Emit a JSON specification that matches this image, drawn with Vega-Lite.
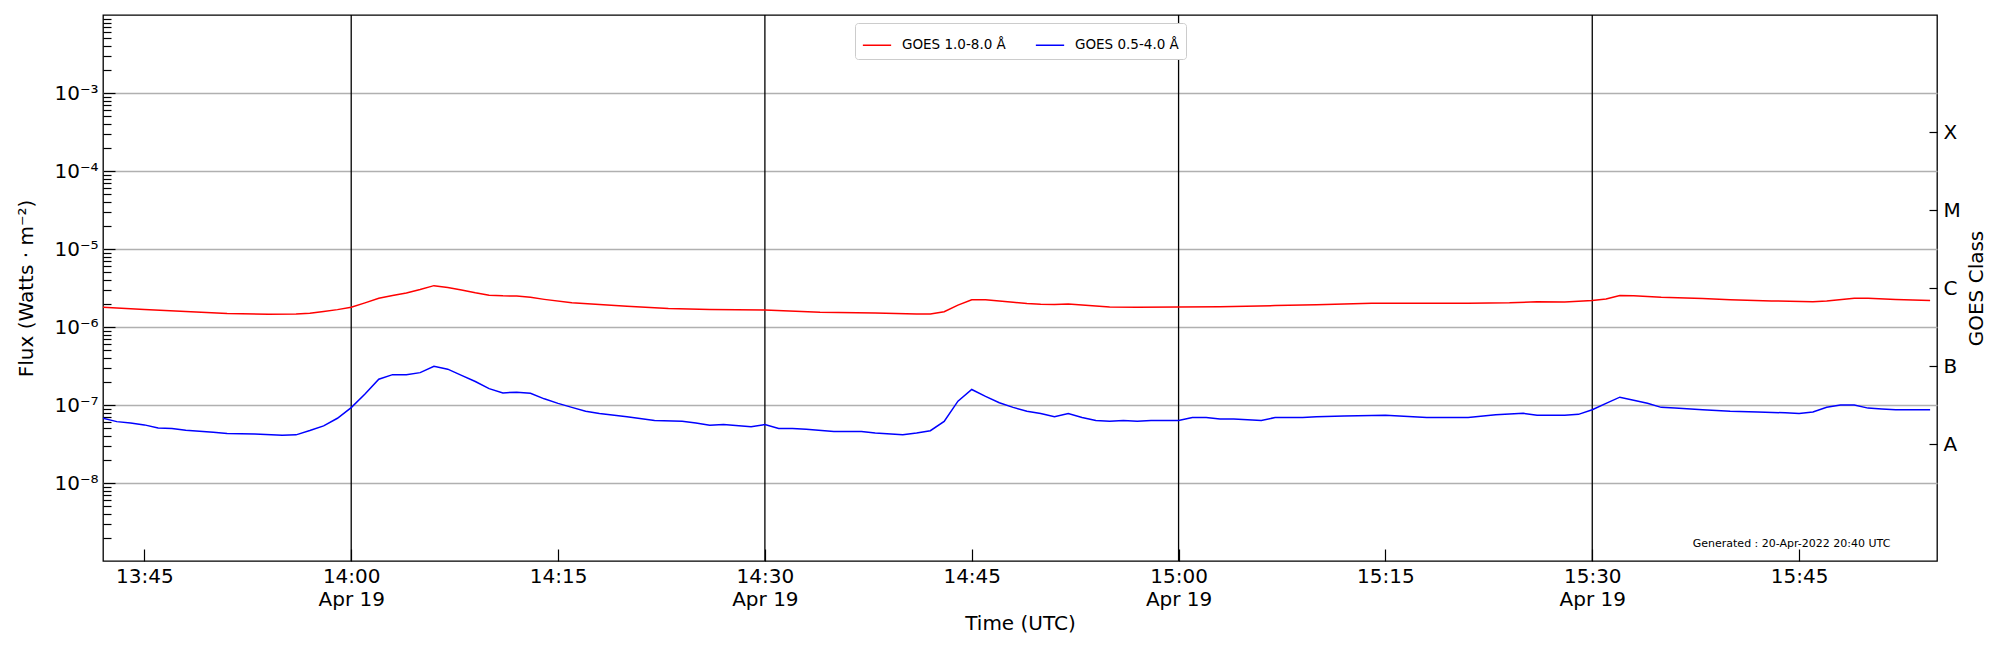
{
  "$schema": "https://vega.github.io/schema/vega-lite/v6.json",
  "width": 1834,
  "height": 546,
  "autosize": "none",
  "padding": {"left": 103, "top": 15, "right": 63, "bottom": 89},
  "background": "white",
  "config": {
    "font": "DejaVu Sans",
    "view": {"stroke": "black", "strokeWidth": 1.3},
    "axis": {
      "labelFont": "DejaVu Sans", "titleFont": "DejaVu Sans",
      "labelColor": "black", "titleColor": "black", "titleFontWeight": "normal",
      "labelFontSize": 20, "titleFontSize": 20,
      "tickColor": "black", "tickWidth": 1.2, "domain": false
    }
  },
  "datasets": {
    "noon": [
      {"time": "2022-04-19T14:00:00"},
      {"time": "2022-04-19T14:30:00"},
      {"time": "2022-04-19T15:00:00"},
      {"time": "2022-04-19T15:30:00"}
    ],
    "flux": [
      {"time": "2022-04-19T13:42:00", "channel": "GOES 1.0-8.0 Å", "flux": 1.79e-6},
      {"time": "2022-04-19T13:45:00", "channel": "GOES 1.0-8.0 Å", "flux": 1.68e-6},
      {"time": "2022-04-19T13:48:00", "channel": "GOES 1.0-8.0 Å", "flux": 1.58e-6},
      {"time": "2022-04-19T13:51:00", "channel": "GOES 1.0-8.0 Å", "flux": 1.49e-6},
      {"time": "2022-04-19T13:54:00", "channel": "GOES 1.0-8.0 Å", "flux": 1.46e-6},
      {"time": "2022-04-19T13:56:00", "channel": "GOES 1.0-8.0 Å", "flux": 1.47e-6},
      {"time": "2022-04-19T13:57:00", "channel": "GOES 1.0-8.0 Å", "flux": 1.50e-6},
      {"time": "2022-04-19T13:58:00", "channel": "GOES 1.0-8.0 Å", "flux": 1.58e-6},
      {"time": "2022-04-19T13:59:00", "channel": "GOES 1.0-8.0 Å", "flux": 1.67e-6},
      {"time": "2022-04-19T14:00:00", "channel": "GOES 1.0-8.0 Å", "flux": 1.79e-6},
      {"time": "2022-04-19T14:01:00", "channel": "GOES 1.0-8.0 Å", "flux": 2.04e-6},
      {"time": "2022-04-19T14:02:00", "channel": "GOES 1.0-8.0 Å", "flux": 2.34e-6},
      {"time": "2022-04-19T14:03:00", "channel": "GOES 1.0-8.0 Å", "flux": 2.54e-6},
      {"time": "2022-04-19T14:04:00", "channel": "GOES 1.0-8.0 Å", "flux": 2.73e-6},
      {"time": "2022-04-19T14:05:00", "channel": "GOES 1.0-8.0 Å", "flux": 3.02e-6},
      {"time": "2022-04-19T14:06:00", "channel": "GOES 1.0-8.0 Å", "flux": 3.39e-6},
      {"time": "2022-04-19T14:07:00", "channel": "GOES 1.0-8.0 Å", "flux": 3.20e-6},
      {"time": "2022-04-19T14:08:00", "channel": "GOES 1.0-8.0 Å", "flux": 2.99e-6},
      {"time": "2022-04-19T14:09:00", "channel": "GOES 1.0-8.0 Å", "flux": 2.75e-6},
      {"time": "2022-04-19T14:10:00", "channel": "GOES 1.0-8.0 Å", "flux": 2.56e-6},
      {"time": "2022-04-19T14:11:00", "channel": "GOES 1.0-8.0 Å", "flux": 2.51e-6},
      {"time": "2022-04-19T14:12:00", "channel": "GOES 1.0-8.0 Å", "flux": 2.49e-6},
      {"time": "2022-04-19T14:13:00", "channel": "GOES 1.0-8.0 Å", "flux": 2.40e-6},
      {"time": "2022-04-19T14:14:00", "channel": "GOES 1.0-8.0 Å", "flux": 2.26e-6},
      {"time": "2022-04-19T14:16:00", "channel": "GOES 1.0-8.0 Å", "flux": 2.04e-6},
      {"time": "2022-04-19T14:18:00", "channel": "GOES 1.0-8.0 Å", "flux": 1.94e-6},
      {"time": "2022-04-19T14:20:00", "channel": "GOES 1.0-8.0 Å", "flux": 1.84e-6},
      {"time": "2022-04-19T14:23:00", "channel": "GOES 1.0-8.0 Å", "flux": 1.73e-6},
      {"time": "2022-04-19T14:26:00", "channel": "GOES 1.0-8.0 Å", "flux": 1.68e-6},
      {"time": "2022-04-19T14:30:00", "channel": "GOES 1.0-8.0 Å", "flux": 1.65e-6},
      {"time": "2022-04-19T14:34:00", "channel": "GOES 1.0-8.0 Å", "flux": 1.55e-6},
      {"time": "2022-04-19T14:38:00", "channel": "GOES 1.0-8.0 Å", "flux": 1.51e-6},
      {"time": "2022-04-19T14:41:00", "channel": "GOES 1.0-8.0 Å", "flux": 1.47e-6},
      {"time": "2022-04-19T14:42:00", "channel": "GOES 1.0-8.0 Å", "flux": 1.47e-6},
      {"time": "2022-04-19T14:43:00", "channel": "GOES 1.0-8.0 Å", "flux": 1.57e-6},
      {"time": "2022-04-19T14:44:00", "channel": "GOES 1.0-8.0 Å", "flux": 1.91e-6},
      {"time": "2022-04-19T14:45:00", "channel": "GOES 1.0-8.0 Å", "flux": 2.24e-6},
      {"time": "2022-04-19T14:46:00", "channel": "GOES 1.0-8.0 Å", "flux": 2.23e-6},
      {"time": "2022-04-19T14:48:00", "channel": "GOES 1.0-8.0 Å", "flux": 2.07e-6},
      {"time": "2022-04-19T14:49:00", "channel": "GOES 1.0-8.0 Å", "flux": 2.00e-6},
      {"time": "2022-04-19T14:50:00", "channel": "GOES 1.0-8.0 Å", "flux": 1.96e-6},
      {"time": "2022-04-19T14:51:00", "channel": "GOES 1.0-8.0 Å", "flux": 1.95e-6},
      {"time": "2022-04-19T14:52:00", "channel": "GOES 1.0-8.0 Å", "flux": 1.97e-6},
      {"time": "2022-04-19T14:53:00", "channel": "GOES 1.0-8.0 Å", "flux": 1.91e-6},
      {"time": "2022-04-19T14:55:00", "channel": "GOES 1.0-8.0 Å", "flux": 1.80e-6},
      {"time": "2022-04-19T14:57:00", "channel": "GOES 1.0-8.0 Å", "flux": 1.79e-6},
      {"time": "2022-04-19T15:00:00", "channel": "GOES 1.0-8.0 Å", "flux": 1.80e-6},
      {"time": "2022-04-19T15:03:00", "channel": "GOES 1.0-8.0 Å", "flux": 1.82e-6},
      {"time": "2022-04-19T15:07:00", "channel": "GOES 1.0-8.0 Å", "flux": 1.88e-6},
      {"time": "2022-04-19T15:10:00", "channel": "GOES 1.0-8.0 Å", "flux": 1.93e-6},
      {"time": "2022-04-19T15:14:00", "channel": "GOES 1.0-8.0 Å", "flux": 2.01e-6},
      {"time": "2022-04-19T15:18:00", "channel": "GOES 1.0-8.0 Å", "flux": 2.01e-6},
      {"time": "2022-04-19T15:21:00", "channel": "GOES 1.0-8.0 Å", "flux": 2.01e-6},
      {"time": "2022-04-19T15:24:00", "channel": "GOES 1.0-8.0 Å", "flux": 2.04e-6},
      {"time": "2022-04-19T15:26:00", "channel": "GOES 1.0-8.0 Å", "flux": 2.11e-6},
      {"time": "2022-04-19T15:28:00", "channel": "GOES 1.0-8.0 Å", "flux": 2.09e-6},
      {"time": "2022-04-19T15:30:00", "channel": "GOES 1.0-8.0 Å", "flux": 2.19e-6},
      {"time": "2022-04-19T15:31:00", "channel": "GOES 1.0-8.0 Å", "flux": 2.29e-6},
      {"time": "2022-04-19T15:32:00", "channel": "GOES 1.0-8.0 Å", "flux": 2.54e-6},
      {"time": "2022-04-19T15:33:00", "channel": "GOES 1.0-8.0 Å", "flux": 2.52e-6},
      {"time": "2022-04-19T15:35:00", "channel": "GOES 1.0-8.0 Å", "flux": 2.40e-6},
      {"time": "2022-04-19T15:38:00", "channel": "GOES 1.0-8.0 Å", "flux": 2.32e-6},
      {"time": "2022-04-19T15:40:00", "channel": "GOES 1.0-8.0 Å", "flux": 2.24e-6},
      {"time": "2022-04-19T15:43:00", "channel": "GOES 1.0-8.0 Å", "flux": 2.16e-6},
      {"time": "2022-04-19T15:46:00", "channel": "GOES 1.0-8.0 Å", "flux": 2.11e-6},
      {"time": "2022-04-19T15:47:00", "channel": "GOES 1.0-8.0 Å", "flux": 2.16e-6},
      {"time": "2022-04-19T15:49:00", "channel": "GOES 1.0-8.0 Å", "flux": 2.34e-6},
      {"time": "2022-04-19T15:50:00", "channel": "GOES 1.0-8.0 Å", "flux": 2.34e-6},
      {"time": "2022-04-19T15:52:00", "channel": "GOES 1.0-8.0 Å", "flux": 2.26e-6},
      {"time": "2022-04-19T15:54:30", "channel": "GOES 1.0-8.0 Å", "flux": 2.19e-6},
      {"time": "2022-04-19T13:42:00", "channel": "GOES 0.5-4.0 Å", "flux": 6.76e-8},
      {"time": "2022-04-19T13:43:00", "channel": "GOES 0.5-4.0 Å", "flux": 6.12e-8},
      {"time": "2022-04-19T13:44:00", "channel": "GOES 0.5-4.0 Å", "flux": 5.89e-8},
      {"time": "2022-04-19T13:45:00", "channel": "GOES 0.5-4.0 Å", "flux": 5.56e-8},
      {"time": "2022-04-19T13:46:00", "channel": "GOES 0.5-4.0 Å", "flux": 5.08e-8},
      {"time": "2022-04-19T13:47:00", "channel": "GOES 0.5-4.0 Å", "flux": 5.01e-8},
      {"time": "2022-04-19T13:48:00", "channel": "GOES 0.5-4.0 Å", "flux": 4.73e-8},
      {"time": "2022-04-19T13:50:00", "channel": "GOES 0.5-4.0 Å", "flux": 4.47e-8},
      {"time": "2022-04-19T13:51:00", "channel": "GOES 0.5-4.0 Å", "flux": 4.31e-8},
      {"time": "2022-04-19T13:53:00", "channel": "GOES 0.5-4.0 Å", "flux": 4.25e-8},
      {"time": "2022-04-19T13:55:00", "channel": "GOES 0.5-4.0 Å", "flux": 4.10e-8},
      {"time": "2022-04-19T13:56:00", "channel": "GOES 0.5-4.0 Å", "flux": 4.14e-8},
      {"time": "2022-04-19T13:57:00", "channel": "GOES 0.5-4.0 Å", "flux": 4.70e-8},
      {"time": "2022-04-19T13:58:00", "channel": "GOES 0.5-4.0 Å", "flux": 5.40e-8},
      {"time": "2022-04-19T13:59:00", "channel": "GOES 0.5-4.0 Å", "flux": 6.76e-8},
      {"time": "2022-04-19T14:00:00", "channel": "GOES 0.5-4.0 Å", "flux": 9.25e-8},
      {"time": "2022-04-19T14:01:00", "channel": "GOES 0.5-4.0 Å", "flux": 1.38e-7},
      {"time": "2022-04-19T14:02:00", "channel": "GOES 0.5-4.0 Å", "flux": 2.14e-7},
      {"time": "2022-04-19T14:03:00", "channel": "GOES 0.5-4.0 Å", "flux": 2.45e-7},
      {"time": "2022-04-19T14:04:00", "channel": "GOES 0.5-4.0 Å", "flux": 2.45e-7},
      {"time": "2022-04-19T14:05:00", "channel": "GOES 0.5-4.0 Å", "flux": 2.60e-7},
      {"time": "2022-04-19T14:06:00", "channel": "GOES 0.5-4.0 Å", "flux": 3.13e-7},
      {"time": "2022-04-19T14:07:00", "channel": "GOES 0.5-4.0 Å", "flux": 2.88e-7},
      {"time": "2022-04-19T14:08:00", "channel": "GOES 0.5-4.0 Å", "flux": 2.40e-7},
      {"time": "2022-04-19T14:09:00", "channel": "GOES 0.5-4.0 Å", "flux": 2.00e-7},
      {"time": "2022-04-19T14:10:00", "channel": "GOES 0.5-4.0 Å", "flux": 1.62e-7},
      {"time": "2022-04-19T14:11:00", "channel": "GOES 0.5-4.0 Å", "flux": 1.43e-7},
      {"time": "2022-04-19T14:12:00", "channel": "GOES 0.5-4.0 Å", "flux": 1.46e-7},
      {"time": "2022-04-19T14:13:00", "channel": "GOES 0.5-4.0 Å", "flux": 1.41e-7},
      {"time": "2022-04-19T14:14:00", "channel": "GOES 0.5-4.0 Å", "flux": 1.20e-7},
      {"time": "2022-04-19T14:15:00", "channel": "GOES 0.5-4.0 Å", "flux": 1.05e-7},
      {"time": "2022-04-19T14:16:00", "channel": "GOES 0.5-4.0 Å", "flux": 9.33e-8},
      {"time": "2022-04-19T14:17:00", "channel": "GOES 0.5-4.0 Å", "flux": 8.32e-8},
      {"time": "2022-04-19T14:18:00", "channel": "GOES 0.5-4.0 Å", "flux": 7.76e-8},
      {"time": "2022-04-19T14:20:00", "channel": "GOES 0.5-4.0 Å", "flux": 7.08e-8},
      {"time": "2022-04-19T14:22:00", "channel": "GOES 0.5-4.0 Å", "flux": 6.31e-8},
      {"time": "2022-04-19T14:24:00", "channel": "GOES 0.5-4.0 Å", "flux": 6.17e-8},
      {"time": "2022-04-19T14:25:00", "channel": "GOES 0.5-4.0 Å", "flux": 5.89e-8},
      {"time": "2022-04-19T14:26:00", "channel": "GOES 0.5-4.0 Å", "flux": 5.50e-8},
      {"time": "2022-04-19T14:27:00", "channel": "GOES 0.5-4.0 Å", "flux": 5.62e-8},
      {"time": "2022-04-19T14:29:00", "channel": "GOES 0.5-4.0 Å", "flux": 5.25e-8},
      {"time": "2022-04-19T14:30:00", "channel": "GOES 0.5-4.0 Å", "flux": 5.62e-8},
      {"time": "2022-04-19T14:31:00", "channel": "GOES 0.5-4.0 Å", "flux": 5.01e-8},
      {"time": "2022-04-19T14:32:00", "channel": "GOES 0.5-4.0 Å", "flux": 5.01e-8},
      {"time": "2022-04-19T14:33:00", "channel": "GOES 0.5-4.0 Å", "flux": 4.90e-8},
      {"time": "2022-04-19T14:35:00", "channel": "GOES 0.5-4.0 Å", "flux": 4.57e-8},
      {"time": "2022-04-19T14:37:00", "channel": "GOES 0.5-4.0 Å", "flux": 4.57e-8},
      {"time": "2022-04-19T14:38:00", "channel": "GOES 0.5-4.0 Å", "flux": 4.37e-8},
      {"time": "2022-04-19T14:40:00", "channel": "GOES 0.5-4.0 Å", "flux": 4.17e-8},
      {"time": "2022-04-19T14:41:00", "channel": "GOES 0.5-4.0 Å", "flux": 4.37e-8},
      {"time": "2022-04-19T14:42:00", "channel": "GOES 0.5-4.0 Å", "flux": 4.68e-8},
      {"time": "2022-04-19T14:43:00", "channel": "GOES 0.5-4.0 Å", "flux": 6.17e-8},
      {"time": "2022-04-19T14:44:00", "channel": "GOES 0.5-4.0 Å", "flux": 1.12e-7},
      {"time": "2022-04-19T14:45:00", "channel": "GOES 0.5-4.0 Å", "flux": 1.58e-7},
      {"time": "2022-04-19T14:46:00", "channel": "GOES 0.5-4.0 Å", "flux": 1.29e-7},
      {"time": "2022-04-19T14:47:00", "channel": "GOES 0.5-4.0 Å", "flux": 1.07e-7},
      {"time": "2022-04-19T14:48:00", "channel": "GOES 0.5-4.0 Å", "flux": 9.33e-8},
      {"time": "2022-04-19T14:49:00", "channel": "GOES 0.5-4.0 Å", "flux": 8.32e-8},
      {"time": "2022-04-19T14:50:00", "channel": "GOES 0.5-4.0 Å", "flux": 7.76e-8},
      {"time": "2022-04-19T14:51:00", "channel": "GOES 0.5-4.0 Å", "flux": 7.08e-8},
      {"time": "2022-04-19T14:52:00", "channel": "GOES 0.5-4.0 Å", "flux": 7.76e-8},
      {"time": "2022-04-19T14:53:00", "channel": "GOES 0.5-4.0 Å", "flux": 6.92e-8},
      {"time": "2022-04-19T14:54:00", "channel": "GOES 0.5-4.0 Å", "flux": 6.31e-8},
      {"time": "2022-04-19T14:55:00", "channel": "GOES 0.5-4.0 Å", "flux": 6.17e-8},
      {"time": "2022-04-19T14:56:00", "channel": "GOES 0.5-4.0 Å", "flux": 6.31e-8},
      {"time": "2022-04-19T14:57:00", "channel": "GOES 0.5-4.0 Å", "flux": 6.17e-8},
      {"time": "2022-04-19T14:58:00", "channel": "GOES 0.5-4.0 Å", "flux": 6.31e-8},
      {"time": "2022-04-19T15:00:00", "channel": "GOES 0.5-4.0 Å", "flux": 6.31e-8},
      {"time": "2022-04-19T15:01:00", "channel": "GOES 0.5-4.0 Å", "flux": 6.92e-8},
      {"time": "2022-04-19T15:02:00", "channel": "GOES 0.5-4.0 Å", "flux": 6.92e-8},
      {"time": "2022-04-19T15:03:00", "channel": "GOES 0.5-4.0 Å", "flux": 6.61e-8},
      {"time": "2022-04-19T15:04:00", "channel": "GOES 0.5-4.0 Å", "flux": 6.61e-8},
      {"time": "2022-04-19T15:06:00", "channel": "GOES 0.5-4.0 Å", "flux": 6.31e-8},
      {"time": "2022-04-19T15:07:00", "channel": "GOES 0.5-4.0 Å", "flux": 6.92e-8},
      {"time": "2022-04-19T15:09:00", "channel": "GOES 0.5-4.0 Å", "flux": 6.92e-8},
      {"time": "2022-04-19T15:10:00", "channel": "GOES 0.5-4.0 Å", "flux": 7.08e-8},
      {"time": "2022-04-19T15:12:00", "channel": "GOES 0.5-4.0 Å", "flux": 7.24e-8},
      {"time": "2022-04-19T15:15:00", "channel": "GOES 0.5-4.0 Å", "flux": 7.41e-8},
      {"time": "2022-04-19T15:18:00", "channel": "GOES 0.5-4.0 Å", "flux": 6.92e-8},
      {"time": "2022-04-19T15:21:00", "channel": "GOES 0.5-4.0 Å", "flux": 6.92e-8},
      {"time": "2022-04-19T15:23:00", "channel": "GOES 0.5-4.0 Å", "flux": 7.52e-8},
      {"time": "2022-04-19T15:25:00", "channel": "GOES 0.5-4.0 Å", "flux": 7.82e-8},
      {"time": "2022-04-19T15:26:00", "channel": "GOES 0.5-4.0 Å", "flux": 7.38e-8},
      {"time": "2022-04-19T15:28:00", "channel": "GOES 0.5-4.0 Å", "flux": 7.41e-8},
      {"time": "2022-04-19T15:29:00", "channel": "GOES 0.5-4.0 Å", "flux": 7.59e-8},
      {"time": "2022-04-19T15:30:00", "channel": "GOES 0.5-4.0 Å", "flux": 8.71e-8},
      {"time": "2022-04-19T15:31:00", "channel": "GOES 0.5-4.0 Å", "flux": 1.05e-7},
      {"time": "2022-04-19T15:32:00", "channel": "GOES 0.5-4.0 Å", "flux": 1.26e-7},
      {"time": "2022-04-19T15:33:00", "channel": "GOES 0.5-4.0 Å", "flux": 1.15e-7},
      {"time": "2022-04-19T15:34:00", "channel": "GOES 0.5-4.0 Å", "flux": 1.05e-7},
      {"time": "2022-04-19T15:35:00", "channel": "GOES 0.5-4.0 Å", "flux": 9.33e-8},
      {"time": "2022-04-19T15:36:00", "channel": "GOES 0.5-4.0 Å", "flux": 9.12e-8},
      {"time": "2022-04-19T15:38:00", "channel": "GOES 0.5-4.0 Å", "flux": 8.71e-8},
      {"time": "2022-04-19T15:40:00", "channel": "GOES 0.5-4.0 Å", "flux": 8.32e-8},
      {"time": "2022-04-19T15:42:00", "channel": "GOES 0.5-4.0 Å", "flux": 8.13e-8},
      {"time": "2022-04-19T15:44:00", "channel": "GOES 0.5-4.0 Å", "flux": 7.94e-8},
      {"time": "2022-04-19T15:45:00", "channel": "GOES 0.5-4.0 Å", "flux": 7.76e-8},
      {"time": "2022-04-19T15:46:00", "channel": "GOES 0.5-4.0 Å", "flux": 8.13e-8},
      {"time": "2022-04-19T15:47:00", "channel": "GOES 0.5-4.0 Å", "flux": 9.33e-8},
      {"time": "2022-04-19T15:48:00", "channel": "GOES 0.5-4.0 Å", "flux": 1.00e-7},
      {"time": "2022-04-19T15:49:00", "channel": "GOES 0.5-4.0 Å", "flux": 1.00e-7},
      {"time": "2022-04-19T15:50:00", "channel": "GOES 0.5-4.0 Å", "flux": 9.12e-8},
      {"time": "2022-04-19T15:51:00", "channel": "GOES 0.5-4.0 Å", "flux": 8.91e-8},
      {"time": "2022-04-19T15:52:00", "channel": "GOES 0.5-4.0 Å", "flux": 8.71e-8},
      {"time": "2022-04-19T15:54:30", "channel": "GOES 0.5-4.0 Å", "flux": 8.71e-8}
    ]
  },
  "layer": [
    {
      "data": {"name": "noon"},
      "mark": {"type": "rule", "color": "black", "strokeWidth": 1.3},
      "encoding": {
        "x": {"field": "time", "type": "temporal"}
      }
    },
    {
      "data": {"name": "flux"},
      "mark": {"type": "line", "strokeWidth": 1.5, "clip": true},
      "encoding": {
        "x": {
          "field": "time", "type": "temporal",
          "scale": {"domain": [
            {"year": 2022, "month": 4, "date": 19, "hours": 13, "minutes": 42},
            {"year": 2022, "month": 4, "date": 19, "hours": 15, "minutes": 55}
          ]},
          "axis": {
            "title": "Time (UTC)",
            "values": [
              {"year": 2022, "month": 4, "date": 19, "hours": 13, "minutes": 45},
              {"year": 2022, "month": 4, "date": 19, "hours": 14, "minutes": 0},
              {"year": 2022, "month": 4, "date": 19, "hours": 14, "minutes": 15},
              {"year": 2022, "month": 4, "date": 19, "hours": 14, "minutes": 30},
              {"year": 2022, "month": 4, "date": 19, "hours": 14, "minutes": 45},
              {"year": 2022, "month": 4, "date": 19, "hours": 15, "minutes": 0},
              {"year": 2022, "month": 4, "date": 19, "hours": 15, "minutes": 15},
              {"year": 2022, "month": 4, "date": 19, "hours": 15, "minutes": 30},
              {"year": 2022, "month": 4, "date": 19, "hours": 15, "minutes": 45}
            ],
            "labelExpr": "minutes(datum.value) % 30 == 0 ? [timeFormat(datum.value, '%H:%M'), 'Apr 19'] : timeFormat(datum.value, '%H:%M')",
            "labelLineHeight": 23,
            "labelOverlap": false,
            "labelFlush": false,
            "tickSize": -12,
            "labelPadding": 17,
            "grid": false,
            "titlePadding": 4
          }
        },
        "y": {
          "field": "flux", "type": "quantitative",
          "scale": {"type": "log", "domain": [1e-9, 1e-2]},
          "axis": {
            "title": "Flux (Watts · m⁻²)",
            "values": [1e-8, 1e-7, 1e-6, 1e-5, 1e-4, 1e-3],
            "labelExpr": "'10⁻' + ['⁰','¹','²','³','⁴','⁵','⁶','⁷','⁸','⁹'][round(-log(datum.value) / LN10)]",
            "tickSize": -12,
            "labelPadding": 17,
            "grid": true,
            "gridColor": "#b0b0b0",
            "gridWidth": 1.3,
            "titlePadding": 17
          }
        },
        "color": {
          "field": "channel", "type": "nominal",
          "scale": {"domain": ["GOES 1.0-8.0 Å", "GOES 0.5-4.0 Å"], "range": ["#ff0000", "#0000ff"]},
          "legend": {
            "orient": "none", "legendX": 752, "legendY": 8,
            "direction": "horizontal", "title": null,
            "symbolType": "stroke", "symbolSize": 800, "symbolStrokeWidth": 1.5,
            "labelFont": "DejaVu Sans", "labelFontSize": 13.5, "labelColor": "black",
            "labelOffset": 10, "columnPadding": 26,
            "fillColor": "white", "strokeColor": "#cccccc", "cornerRadius": 3, "padding": 7
          }
        }
      }
    },
    {
      "data": {"name": "flux"},
      "mark": {"type": "point", "opacity": 0},
      "encoding": {
        "y": {
          "field": "flux", "type": "quantitative",
          "scale": {"type": "log", "domain": [1e-9, 1e-2]},
          "axis": {
            "orient": "left", "title": null, "labels": false, "grid": false, "tickSize": -8,
            "values": [2e-9, 3e-9, 4e-9, 5e-9, 6e-9, 7e-9, 8e-9, 9e-9,
                       2e-8, 3e-8, 4e-8, 5e-8, 6e-8, 7e-8, 8e-8, 9e-8,
                       2e-7, 3e-7, 4e-7, 5e-7, 6e-7, 7e-7, 8e-7, 9e-7,
                       2e-6, 3e-6, 4e-6, 5e-6, 6e-6, 7e-6, 8e-6, 9e-6,
                       2e-5, 3e-5, 4e-5, 5e-5, 6e-5, 7e-5, 8e-5, 9e-5,
                       2e-4, 3e-4, 4e-4, 5e-4, 6e-4, 7e-4, 8e-4, 9e-4,
                       2e-3, 3e-3, 4e-3, 5e-3, 6e-3, 7e-3, 8e-3, 9e-3]
          }
        }
      }
    },
    {
      "data": {"name": "flux"},
      "mark": {"type": "point", "opacity": 0},
      "encoding": {
        "y": {
          "field": "flux", "type": "quantitative",
          "scale": {"type": "log", "domain": [1e-9, 1e-2]},
          "axis": {
            "orient": "right", "title": "GOES Class", "titleAngle": 270, "titleBaseline": "top",
            "grid": false, "tickSize": -8, "labelPadding": 14, "titlePadding": 6,
            "values": [3.162e-8, 3.162e-7, 3.162e-6, 3.162e-5, 3.162e-4],
            "labelExpr": "['A','B','C','M','X'][round(log(datum.value) / LN10 + 7.5)]"
          }
        }
      }
    },
    {
      "data": {"values": [{"note": "Generated : 20-Apr-2022 20:40 UTC"}]},
      "mark": {"type": "text", "align": "right", "baseline": "middle", "fontSize": 11, "font": "DejaVu Sans", "color": "black"},
      "encoding": {
        "x": {"datum": {"year": 2022, "month": 4, "date": 19, "hours": 15, "minutes": 51, "seconds": 37}, "type": "temporal"},
        "y": {"datum": 1.67e-9, "type": "quantitative", "scale": {"type": "log", "domain": [1e-9, 1e-2]}, "axis": null},
        "text": {"field": "note"}
      }
    }
  ],
  "resolve": {"axis": {"y": "independent"}}
}
